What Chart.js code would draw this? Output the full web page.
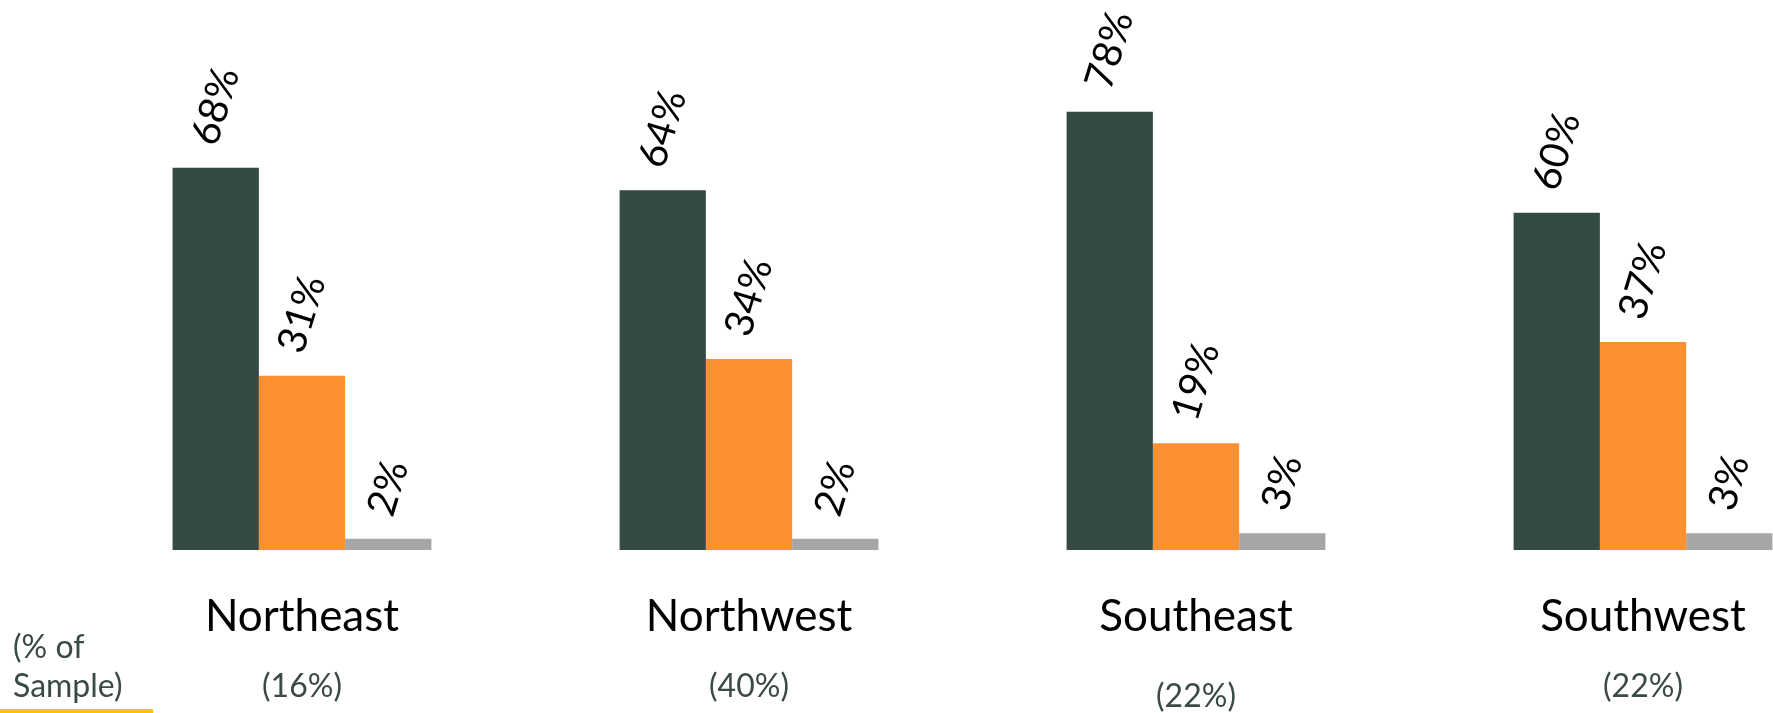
<!DOCTYPE html>
<html>
<head>
<meta charset="utf-8">
<script src="https://cdn.jsdelivr.net/npm/chart.js@4"></script>
<style>
  html, body { margin: 0; padding: 0; background: #ffffff; overflow: hidden; }
  #wrap { width: 1900px; height: 713px; }
</style>
</head>
<body>
<div id="wrap"><canvas id="c" width="1900" height="713"></canvas></div>
<script>
// ---- data ----
const categories = ['Northeast', 'Northwest', 'Southeast', 'Southwest'];
const sampleShare = ['(16%)', '(40%)', '(22%)', '(22%)'];
const seriesA = [68, 64, 78, 60];
const seriesB = [31, 34, 19, 37];
const seriesC = [2, 2, 3, 3];
const sampleTitle = ['(% of', 'Sample)'];

// ---- styles ----
const colors = ['#354a44', '#fd9030', '#a6a6a6'];
const FONT = 'Lato, "Open Sans", sans-serif';

const labelPlugin = {
  id: 'labels',
  afterDatasetsDraw(chart) {
    const ctx = chart.ctx;
    const ang = -73 * Math.PI / 180;
    ctx.save();
    ctx.font = '40px ' + FONT;
    ctx.fillStyle = '#000000';
    ctx.textAlign = 'center';
    ctx.textBaseline = 'middle';
    chart.data.datasets.forEach((ds, di) => {
      const meta = chart.getDatasetMeta(di);
      meta.data.forEach((bar, i) => {
        const txt = ds.data[i] + '%';
        const w = ctx.measureText(txt).width;
        const cy = bar.y - 24 - (w / 2) * Math.sin(-ang);
        ctx.save();
        ctx.translate(bar.x, cy);
        ctx.rotate(ang);
        ctx.fillText(txt, 0, 0);
        ctx.restore();
      });
    });
    ctx.restore();
  },
  afterDraw(chart) {
    const ctx = chart.ctx;
    const xs = chart.scales.x;
    ctx.save();
    ctx.textAlign = 'center';
    categories.forEach((c, i) => {
      const x = xs.getPixelForValue(i);
      ctx.font = '44px ' + FONT;
      ctx.fillStyle = '#000000';
      ctx.textBaseline = 'alphabetic';
      ctx.fillText(c, x, 631);
      ctx.font = '32px ' + FONT;
      ctx.fillStyle = '#3a4a45';
      ctx.textBaseline = 'middle';
      ctx.fillText(sampleShare[i], x, i === 2 ? 697 : 687);
    });
    ctx.textAlign = 'left';
    ctx.textBaseline = 'middle';
    ctx.font = '32px ' + FONT;
    ctx.fillStyle = '#3a4a45';
    ctx.fillText(sampleTitle[0], 13, 648);
    ctx.fillText(sampleTitle[1], 13, 687);
    ctx.fillStyle = '#ffc000';
    ctx.fillRect(0, 709, 153, 4);
    ctx.restore();
  }
};

new Chart(document.getElementById('c'), {
  type: 'bar',
  data: {
    labels: categories,
    datasets: [
      { label: 'A', data: seriesA, backgroundColor: colors[0] },
      { label: 'B', data: seriesB, backgroundColor: colors[1] },
      { label: 'C', data: seriesC, backgroundColor: colors[2] }
    ]
  },
  options: {
    responsive: false,
    animation: false,
    devicePixelRatio: 1,
    layout: { padding: { left: 78.5, right: 33.5, top: 44.2, bottom: 163 } },
    datasets: { bar: { categoryPercentage: 0.579, barPercentage: 1.0 } },
    plugins: { legend: { display: false }, tooltip: { enabled: false } },
    scales: {
      x: { display: false, offset: true, grid: { display: false } },
      y: { display: false, min: 0, max: 90, grid: { display: false } }
    }
  },
  plugins: [labelPlugin]
});
</script>
</body>
</html>
